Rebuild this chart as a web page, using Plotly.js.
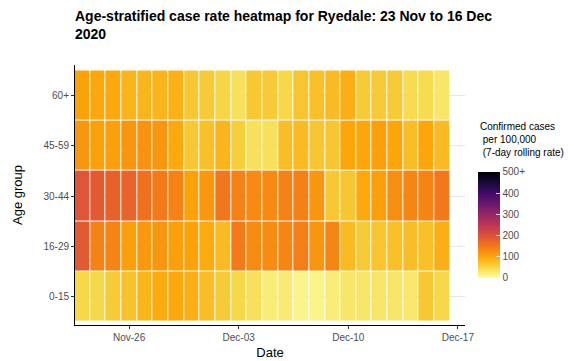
<!DOCTYPE html>
<html>
<head>
<meta charset="utf-8">
<script src="https://cdn.plot.ly/plotly-3.0.1.min.js"></script>
<style>html,body{margin:0;padding:0;background:#fff;}#chart{width:574px;height:361px;}</style>
</head>
<body>
<div id="chart"></div>
<script>
const dates = ['2020-11-23','2020-11-24','2020-11-25','2020-11-26','2020-11-27','2020-11-28','2020-11-29','2020-11-30',
               '2020-12-01','2020-12-02','2020-12-03','2020-12-04','2020-12-05','2020-12-06','2020-12-07','2020-12-08',
               '2020-12-09','2020-12-10','2020-12-11','2020-12-12','2020-12-13','2020-12-14','2020-12-15','2020-12-16'];
const ageGroups = ['0-15','16-29','30-44','45-59','60+'];
const rate_0_15  = [49,48,62,72,84,95,96,91,76,62,49,39,24,26,14,14,24,31,31,31,31,29,65,49];
const rate_16_29 = [188,139,137,106,114,117,106,103,95,79,148,128,128,134,143,117,134,79,62,69,73,76,73,91];
const rate_30_44 = [195,188,178,176,159,148,139,103,114,153,139,130,130,139,141,117,65,67,97,106,126,134,137,150];
const rate_45_59 = [117,103,106,117,121,117,97,65,73,84,59,39,39,76,79,67,67,99,99,106,99,76,99,79];
const rate_60p   = [103,98,97,84,84,84,89,65,62,51,39,65,62,49,68,73,79,91,62,62,62,44,44,31];
const cbTickVals = [0,100,200,300,400,500];
const cbTickText = ['0','100','200','300','400','500+'];

const infernoRev = [
  [0.0,'#fcffa4'],[0.1,'#f6d746'],[0.2,'#fca50a'],[0.3,'#f37819'],[0.4,'#dd513a'],
  [0.5,'#bc3754'],[0.6,'#932667'],[0.7,'#6a176e'],[0.8,'#420a68'],[0.9,'#160b39'],[1.0,'#000004']
];

const font = 'Liberation Sans, Arial, Helvetica, sans-serif';

const trace = {
  type: 'heatmap',
  x: dates,
  y: ageGroups,
  z: [rate_0_15, rate_16_29, rate_30_44, rate_45_59, rate_60p],
  zmin: 0, zmax: 500,
  colorscale: infernoRev,
  xgap: 1, ygap: 1,
  hoverongaps: false,
  colorbar: {
    x: 1.033, xanchor: 'left', xpad: 0,
    y: 0.385, yanchor: 'middle', ypad: 0,
    thickness: 22, len: 106, lenmode: 'pixels',
    outlinewidth: 0,
    tickvals: cbTickVals, ticktext: cbTickText,
    ticks: 'inside', ticklen: 4, tickcolor: 'rgba(255,255,255,0.8)',
    tickfont: {family: font, size: 10, color: '#4d4d4d'}
  }
};

const layout = {
  width: 574, height: 361,
  margin: {l: 75, r: 109, t: 65, b: 36},
  paper_bgcolor: '#ffffff', plot_bgcolor: '#ffffff',
  font: {family: font, color: '#000'},
  title: {
    text: '<b>Age-stratified case rate heatmap for Ryedale: 23 Nov to 16 Dec<br>2020</b>',
    font: {family: font, size: 14, color: '#000'},
    x: 0, xref: 'paper', xanchor: 'left',
    y: 1 - 21/361, yref: 'container', yanchor: 'top'
  },
  xaxis: {
    type: 'date',
    range: ['2020-11-22 13:05', '2020-12-17 10:55'],
    tickvals: ['2020-11-26','2020-12-03','2020-12-10','2020-12-17'],
    ticktext: ['Nov-26','Dec-03','Dec-10','Dec-17'],
    showline: true, linecolor: '#000', linewidth: 1,
    ticks: 'outside', ticklen: 3, tickcolor: '#333', tickwidth: 1,
    tickfont: {family: font, size: 10, color: '#4d4d4d'},
    showgrid: false, zeroline: false,
    title: {text: 'Date', font: {family: font, size: 13, color: '#000'}, standoff: 5}
  },
  yaxis: {
    type: 'category',
    range: [-0.57, 4.61],
    showline: true, linecolor: '#000', linewidth: 1,
    ticks: 'outside', ticklen: 3, tickcolor: '#333', tickwidth: 1,
    tickfont: {family: font, size: 10, color: '#4d4d4d'},
    showgrid: true, gridcolor: '#e6e6e6', gridwidth: 1, zeroline: false,
    title: {text: 'Age group', font: {family: font, size: 13, color: '#000'}, standoff: 17}
  },
  annotations: [{
    text: 'Confirmed cases<br>\u00a0per 100,000<br>\u00a0(7-day rolling rate)',
    xref: 'paper', yref: 'paper',
    x: 1.033, y: (325-119)/260, xanchor: 'left', yanchor: 'top',
    align: 'left', showarrow: false,
    font: {family: font, size: 10, color: '#000'}
  }]
};

Plotly.newPlot('chart', [trace], layout, {displayModeBar: false, responsive: false});
</script>
</body>
</html>
